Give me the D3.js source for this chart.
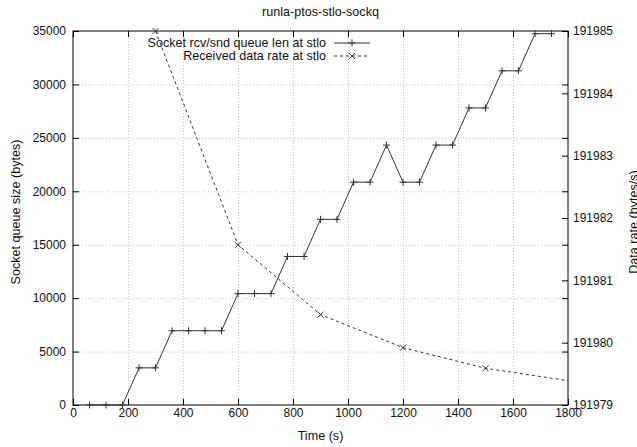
<!DOCTYPE html>
<html>
<head>
<meta charset="utf-8">
<script src="https://cdnjs.cloudflare.com/ajax/libs/d3/7.8.5/d3.min.js"></script>
<style>
  body { margin: 0; background: #fff; }
  svg text { font-family: "Liberation Sans", Arial, sans-serif; font-size: 12.6px; fill: #111; }
</style>
</head>
<body>
<div id="chart"></div>
<script>
// socket queue length (bytes) sampled every 60 s
const queueTimes = [60, 120, 180, 240, 300, 360, 420, 480, 540, 600, 660, 720, 780, 840, 900,
                    960, 1020, 1080, 1140, 1200, 1260, 1320, 1380, 1440, 1500, 1560, 1620, 1680, 1740];
const queueLen = [0, 0, 0, 3475, 3475, 6950, 6950, 6950, 6950, 10425, 10425, 10425, 13900, 13900, 17375,
                  17375, 20850, 20850, 24325, 20850, 20850, 24325, 24325, 27800, 27800, 31275, 31275, 34750, 34750];

// received data rate (bytes/s)
const rateTimes = [300, 600, 900, 1200, 1500, 1800];
const rateValues = [191985.0, 191981.57, 191980.45, 191979.92, 191979.59, 191979.39];

const xTicks = [0, 200, 400, 600, 800, 1000, 1200, 1400, 1600, 1800];
const yTicks = [0, 5000, 10000, 15000, 20000, 25000, 30000, 35000];
const y2Ticks = [191979, 191980, 191981, 191982, 191983, 191984, 191985];

const title = "runla-ptos-stlo-sockq";
const legendLabels = ["Socket rcv/snd queue len at stlo", "Received data rate at stlo"];

const width = 637, height = 447;
const margin = { top: 31, right: 69, bottom: 42, left: 73 };

const svg = d3.select("#chart").append("svg")
    .attr("width", width)
    .attr("height", height);

const x = d3.scaleLinear().domain([0, 1800]).range([margin.left, width - margin.right]);
const y = d3.scaleLinear().domain([0, 35000]).range([height - margin.bottom, margin.top]);
const y2 = d3.scaleLinear().domain([191979, 191985]).range([height - margin.bottom, margin.top]);

const x0 = x.range()[0], x1 = x.range()[1];
const yb = y.range()[0], yt = y.range()[1];

// grid
const grid = svg.append("g").attr("stroke", "#c8c8c8").attr("stroke-dasharray", "1,2").attr("stroke-width", 1);
grid.selectAll(".gx").data(xTicks.slice(1, -1)).join("line")
    .attr("x1", d => x(d) + 0.5).attr("x2", d => x(d) + 0.5)
    .attr("y1", yb).attr("y2", yt);
grid.selectAll(".gy").data(yTicks.slice(1, -1)).join("line")
    .attr("x1", x0).attr("x2", x1)
    .attr("y1", d => y(d) + 0.5).attr("y2", d => y(d) + 0.5);

// axes, ticks pointing inward
function styleAxis(g) {
    g.select(".domain").remove();
    g.selectAll(".tick line").attr("stroke", "#000");
    g.selectAll("text").attr("fill", "#111").style("font-size", "12px")
        .style("font-family", '"Liberation Sans", Arial, sans-serif');
}

svg.append("g").attr("transform", `translate(0,${yb})`)
    .call(d3.axisBottom(x).tickValues(xTicks).tickSize(-6).tickPadding(3).tickFormat(d3.format("d")))
    .call(styleAxis);
svg.append("g").attr("transform", `translate(0,${yt})`)
    .call(d3.axisTop(x).tickValues(xTicks).tickSize(-6).tickFormat(""))
    .call(styleAxis);
svg.append("g").attr("transform", `translate(${x0},0)`)
    .call(d3.axisLeft(y).tickValues(yTicks).tickSize(-6).tickPadding(7).tickFormat(d3.format("d")))
    .call(styleAxis);
svg.append("g").attr("transform", `translate(${x1},0)`)
    .call(d3.axisRight(y).tickValues(yTicks).tickSize(-6).tickFormat(""))
    .call(styleAxis);
svg.append("g").attr("transform", `translate(${x1},0)`)
    .call(d3.axisRight(y2).tickValues(y2Ticks).tickSize(-6).tickPadding(5).tickFormat(d3.format("d")))
    .call(styleAxis);

// frame
svg.append("rect")
    .attr("x", x0).attr("y", yt)
    .attr("width", x1 - x0).attr("height", yb - yt)
    .attr("fill", "none").attr("stroke", "#000").attr("stroke-width", 1);

// clip
svg.append("clipPath").attr("id", "plotclip").append("rect")
    .attr("x", x0).attr("y", yt - 4).attr("width", x1 - x0).attr("height", yb - yt + 8);

const plot = svg.append("g").attr("clip-path", "url(#plotclip)");

const queueData = queueTimes.map((t, i) => [t, queueLen[i]]);
const rateData = rateTimes.map((t, i) => [t, rateValues[i]]);

const lineColor = "#333";

plot.append("path")
    .datum(queueData)
    .attr("fill", "none").attr("stroke", lineColor).attr("stroke-width", 1)
    .attr("d", d3.line().x(d => x(d[0])).y(d => y(d[1])));

plot.append("path")
    .datum(rateData)
    .attr("fill", "none").attr("stroke", lineColor).attr("stroke-width", 1)
    .attr("stroke-dasharray", "3,3")
    .attr("d", d3.line().x(d => x(d[0])).y(d => y2(d[1])));

const plusPath = (cx, cy, s) => `M${cx - s},${cy}H${cx + s}M${cx},${cy - s}V${cy + s}`;
const crossPath = (cx, cy, s) => `M${cx - s},${cy - s}L${cx + s},${cy + s}M${cx - s},${cy + s}L${cx + s},${cy - s}`;

plot.selectAll(".plus").data(queueData).join("path")
    .attr("fill", "none").attr("stroke", lineColor).attr("stroke-width", 1)
    .attr("d", d => plusPath(x(d[0]), y(d[1]), 3.5));

plot.selectAll(".cross").data(rateData.filter(d => d[0] < 1800)).join("path")
    .attr("fill", "none").attr("stroke", lineColor).attr("stroke-width", 1)
    .attr("d", d => crossPath(x(d[0]), y2(d[1]), 3));

// legend
const legend = svg.append("g");
const legendTextX = 326, legendSample = [334, 370];
legendLabels.forEach((label, i) => {
    const ly = 47 + i * 13;
    legend.append("text")
        .attr("x", legendTextX).attr("y", ly)
        .attr("text-anchor", "end")
        .text(label);
    legend.append("line")
        .attr("x1", legendSample[0]).attr("x2", legendSample[1])
        .attr("y1", ly - 4).attr("y2", ly - 4)
        .attr("stroke", lineColor).attr("stroke-width", 1)
        .attr("stroke-dasharray", i === 1 ? "3,3" : null);
    const mx = (legendSample[0] + legendSample[1]) / 2;
    legend.append("path")
        .attr("fill", "none").attr("stroke", lineColor).attr("stroke-width", 1)
        .attr("d", i === 0 ? plusPath(mx, ly - 4, 3.5) : crossPath(mx, ly - 4, 3));
});

// titles
svg.append("text")
    .attr("x", (x0 + x1) / 2).attr("y", 16)
    .attr("text-anchor", "middle")
    .text(title);

svg.append("text")
    .attr("x", (x0 + x1) / 2).attr("y", 440)
    .attr("text-anchor", "middle")
    .text("Time (s)");

svg.append("text")
    .attr("transform", `translate(20,212) rotate(-90)`)
    .attr("text-anchor", "middle")
    .text("Socket queue size (bytes)");

svg.append("text")
    .attr("transform", `translate(638,222) rotate(-90)`)
    .attr("text-anchor", "middle")
    .text("Data rate (bytes/s)");
</script>
</body>
</html>
